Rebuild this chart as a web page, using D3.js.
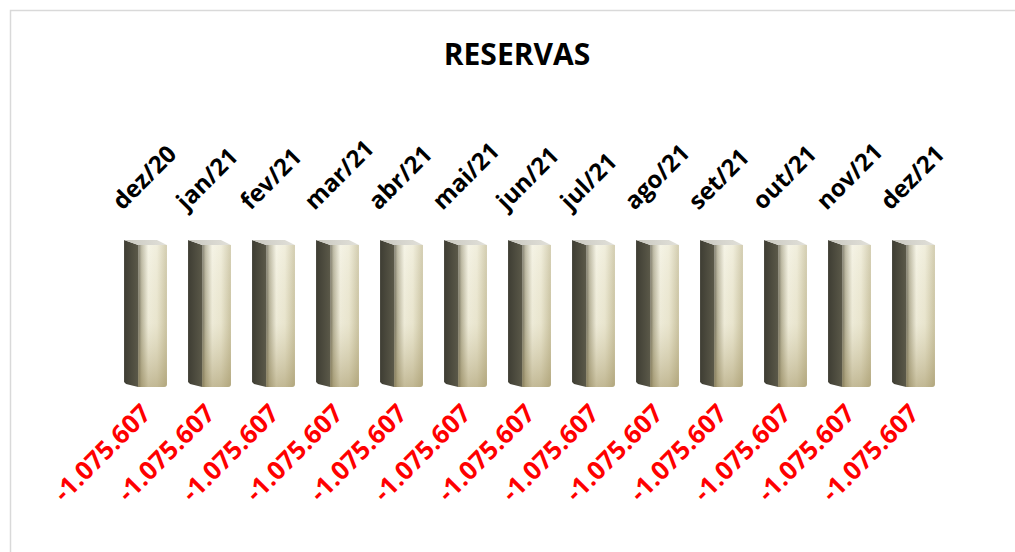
<!DOCTYPE html>
<html>
<head>
<meta charset="utf-8">
<script src="https://cdn.jsdelivr.net/npm/d3@7"></script>
<style>
  body { margin: 0; background: #fff; }
  svg { display: block; }
</style>
</head>
<body>
<svg id="chart" width="1015" height="552"></svg>
<script>
var categories = [ "dez/20", "jan/21", "fev/21", "mar/21", "abr/21", "mai/21", "jun/21",
    "jul/21", "ago/21", "set/21", "out/21", "nov/21", "dez/21" ];
var values = [ -1075607, -1075607, -1075607, -1075607, -1075607, -1075607, -1075607,
    -1075607, -1075607, -1075607, -1075607, -1075607, -1075607 ];
var title = "RESERVAS";

var data = categories.map( function( c, i ) { return { cat: c, val: values[ i ] }; } );

var svg = d3.select( "#chart" );
var font = "'Open Sans', 'Liberation Sans', sans-serif";

// chart frame
svg.append( "rect" )
    .attr( "x", 10.5 ).attr( "y", 10.5 )
    .attr( "width", 1020 ).attr( "height", 560 )
    .attr( "fill", "#fff" )
    .attr( "stroke", "#d9d9d9" )
    .attr( "stroke-width", 1.5 );

var x = d3.scaleBand()
    .domain( categories )
    .range( [ 113.5, 945.5 ] )
    .paddingInner( 0.33 )
    .paddingOuter( 0.165 );

var y = d3.scaleLinear()
    .domain( [ 0, -1200000 ] )
    .range( [ 240, 404 ] );

var ptBR = d3.formatLocale( { decimal: ",", thousands: ".", grouping: [ 3 ], currency: [ "R$", "" ], minus: "-" } );
var fmt = ptBR.format( ",d" );

// gradients
var defs = svg.append( "defs" );
function grad( id, x2, y2, stops ) {
    var g = defs.append( "linearGradient" ).attr( "id", id )
        .attr( "x1", 0 ).attr( "y1", 0 ).attr( "x2", x2 ).attr( "y2", y2 );
    stops.forEach( function( s ) {
        g.append( "stop" ).attr( "offset", s[ 0 ] ).attr( "stop-color", s[ 1 ] )
            .attr( "stop-opacity", s[ 2 ] == null ? 1 : s[ 2 ] );
    } );
}
grad( "side", 1, 0, [ [ "0%", "#3e3d33" ], [ "100%", "#5b5949" ] ] );
grad( "front", 1, 0, [ [ "0%", "#6a6755" ], [ "12%", "#b7b39b" ], [ "35%", "#f3f1e1" ],
    [ "65%", "#eeebd6" ], [ "100%", "#cbc4a3" ] ] );
grad( "shade", 0, 1, [ [ "0%", "#ffffff", 0.15 ], [ "55%", "#b8ac80", 0.1 ], [ "100%", "#9c8d5c", 0.55 ] ] );
grad( "topface", 1, 0, [ [ "0%", "#c9c8c0" ], [ "100%", "#e2e1da" ] ] );

var bars = svg.append( "g" ).selectAll( "g" )
    .data( data )
    .enter().append( "g" );

bars.each( function( d ) {
    var g = d3.select( this );
    var x0 = x( d.cat ), w = x.bandwidth();
    var top = y( 0 ), bot = y( d.val );
    var side = w * 0.33, dz = 5;
    var front = "M" + ( x0 + side ) + "," + ( top + dz ) + "H" + ( x0 + w ) + "V" + ( bot - 3 ) +
        "Q" + ( x0 + w ) + "," + bot + " " + ( x0 + w - 3 ) + "," + bot + "H" + ( x0 + side ) + "Z";
    g.append( "polygon" )
        .attr( "points", [ [ x0, top ], [ x0 + side, top + dz ], [ x0 + side, bot ], [ x0 + 2, bot - 3 ], [ x0, bot - 5 ] ].join( " " ) )
        .attr( "fill", "url(#side)" );
    g.append( "path" ).attr( "d", front ).attr( "fill", "url(#front)" );
    g.append( "path" ).attr( "d", front ).attr( "fill", "url(#shade)" );
    g.append( "polygon" )
        .attr( "points", [ [ x0, top ], [ x0 + w - 10, top ], [ x0 + w, top + dz ], [ x0 + side, top + dz ] ].join( " " ) )
        .attr( "fill", "url(#topface)" );
} );

// category labels
svg.append( "g" ).selectAll( "text" )
    .data( data )
    .enter().append( "text" )
    .attr( "transform", function( d ) {
        return "translate(" + ( x( d.cat ) + x.bandwidth() / 2 - 23 ) + "," + ( y( 0 ) - 29 ) + ") rotate(-45)";
    } )
    .attr( "font-family", font )
    .attr( "font-weight", "bold" )
    .attr( "font-size", 24 )
    .attr( "fill", "#000" )
    .text( function( d ) { return d.cat; } );

// value labels
svg.append( "g" ).selectAll( "text" )
    .data( data )
    .enter().append( "text" )
    .attr( "transform", function( d ) {
        return "translate(" + ( x( d.cat ) + x.bandwidth() / 2 + 7 ) + "," + ( y( d.val ) + 28 ) + ") rotate(-45)";
    } )
    .attr( "text-anchor", "end" )
    .attr( "font-family", font )
    .attr( "font-weight", "bold" )
    .attr( "font-size", 25.5 )
    .attr( "fill", "#ff0000" )
    .text( function( d ) { return fmt( d.val ); } );

// title
svg.append( "text" )
    .attr( "x", 517 ).attr( "y", 65 )
    .attr( "text-anchor", "middle" )
    .attr( "font-family", font )
    .attr( "font-weight", "bold" )
    .attr( "font-size", 30 )
    .attr( "fill", "#000" )
    .text( title );
</script>
</body>
</html>
